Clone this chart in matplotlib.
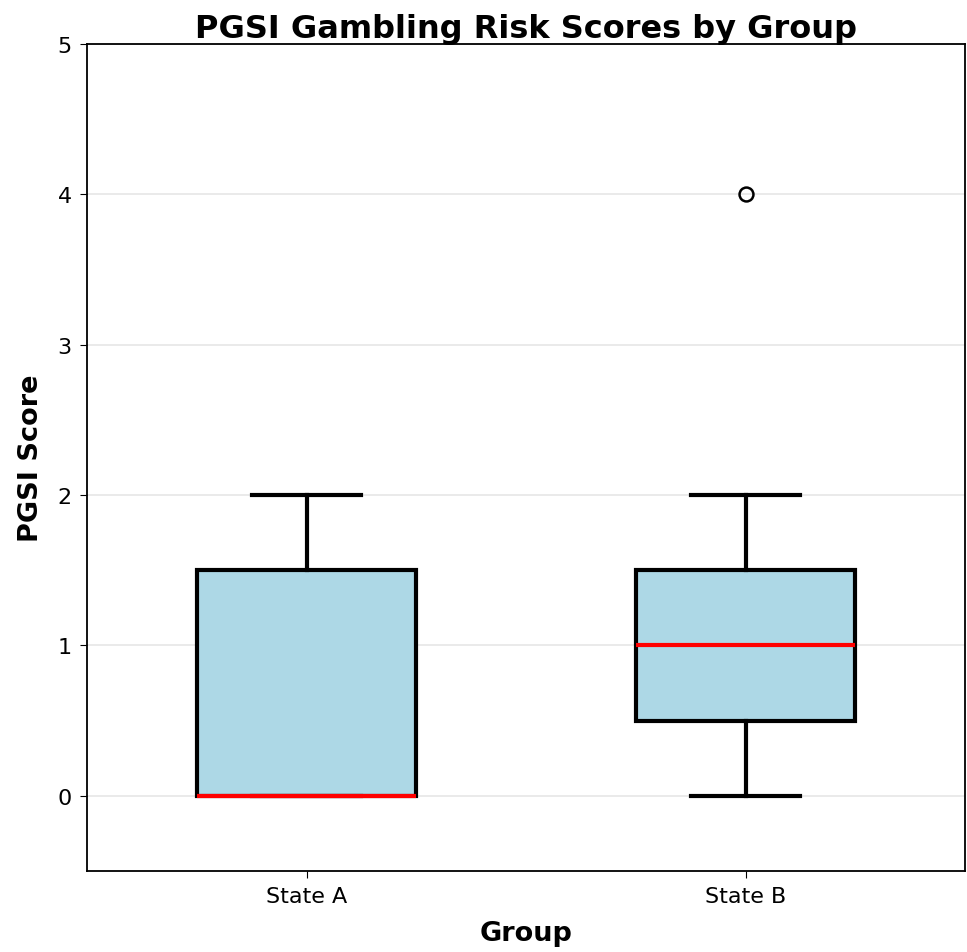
import matplotlib
matplotlib.use("Agg")
import matplotlib.pyplot as plt

# PGSI score summaries per group
groups = ["State A", "State B"]
q1 = [0.0, 0.5]
medians = [0.0, 1.0]
q3 = [1.5, 1.5]
whisker_low = [0.0, 0.0]
whisker_high = [2.0, 2.0]
outliers = [[], [4.0]]

stats = []
for i, name in enumerate(groups):
    stats.append(dict(label=name, q1=q1[i], med=medians[i], q3=q3[i],
                      whislo=whisker_low[i], whishi=whisker_high[i],
                      fliers=outliers[i]))

fig = plt.figure(figsize=(9.67, 9.53), dpi=100)
ax = fig.add_axes([0.090, 0.085, 0.908, 0.868])

ax.bxp(stats, positions=[1, 2], widths=0.5, patch_artist=True,
       boxprops=dict(facecolor="lightblue", edgecolor="black", linewidth=3),
       medianprops=dict(color="red", linewidth=3),
       whiskerprops=dict(color="black", linewidth=3),
       capprops=dict(color="black", linewidth=3),
       flierprops=dict(marker="o", markerfacecolor="none",
                       markeredgecolor="black", markersize=10,
                       markeredgewidth=1.8))

ax.set_xlim(0.5, 2.5)
ax.set_ylim(-0.5, 5)
ax.set_yticks([0, 1, 2, 3, 4, 5])
ax.yaxis.grid(True, color="#e6e6e6", linewidth=1.2)
ax.set_axisbelow(True)
for s in ax.spines.values():
    s.set_linewidth(1.3)

ax.tick_params(labelsize=16, length=5, pad=6)
ax.set_title("PGSI Gambling Risk Scores by Group", fontsize=23,
             fontweight="bold", pad=3)
ax.set_xlabel("Group", fontsize=19.5, fontweight="bold", labelpad=10)
ax.set_ylabel("PGSI Score", fontsize=19.5, fontweight="bold", labelpad=10)

fig.savefig("out.png", dpi=100)
